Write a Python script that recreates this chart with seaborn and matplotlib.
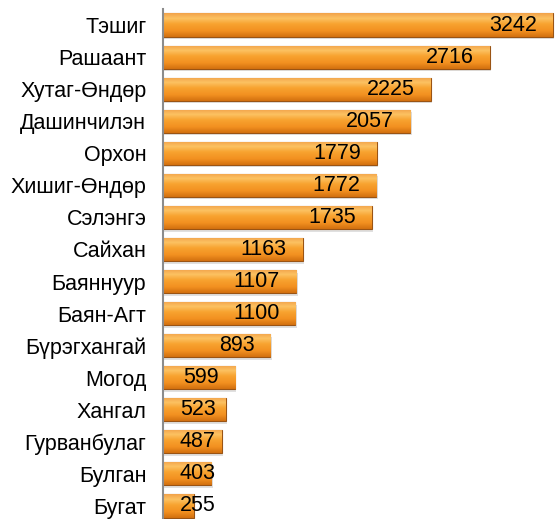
import numpy as np
import pandas as pd
import matplotlib
matplotlib.use("Agg")
import matplotlib.pyplot as plt
import seaborn as sns
from matplotlib.colors import LinearSegmentedColormap

# data
sums = ["Тэшиг", "Рашаант", "Хутаг-Өндөр", "Дашинчилэн", "Орхон", "Хишиг-Өндөр",
        "Сэлэнгэ", "Сайхан", "Баяннуур", "Баян-Агт", "Бүрэгхангай", "Могод",
        "Хангал", "Гурванбулаг", "Булган", "Бугат"]
values = [3242, 2716, 2225, 2057, 1779, 1772, 1735, 1163, 1107, 1100, 893, 599,
          523, 487, 403, 255]

df = pd.DataFrame({"sum": sums, "value": values})

sns.set_theme(style="white")
plt.rcParams["font.family"] = ["Liberation Sans", "DejaVu Sans"]

fig = plt.figure(figsize=(5.57, 5.19), dpi=100)
ax = fig.add_axes([163 / 557, -3 / 519, 392 / 557, 513 / 519])

sns.barplot(data=df, y="sum", x="value", orient="h", color="#F39A2B",
            width=0.72, edgecolor="#9A5414", linewidth=0.8, ax=ax, zorder=2)

# glossy orange gradient inside each bar (light top, dark bottom)
grad = LinearSegmentedColormap.from_list(
    "shine", [(0.0, "#F2A24A"), (0.22, "#FCC262"), (0.45, "#F8A330"),
              (0.75, "#F29020"), (1.0, "#D2700F")])
gimg = np.linspace(0, 1, 64).reshape(-1, 1)
for p in ax.patches:
    x0, y0 = p.get_x(), p.get_y()
    w, h = p.get_width(), p.get_height()
    # soft shadow
    ax.add_patch(plt.Rectangle((x0 + 12, y0 + 0.08), w, h, color="#000000",
                               alpha=0.12, zorder=1, lw=0))
    im = ax.imshow(gimg, cmap=grad, aspect="auto",
                   extent=(x0, x0 + w, y0 + h, y0), zorder=2.5,
                   interpolation="bilinear")
    im.set_clip_path(p)

for i, v in enumerate(values):
    if v < 560:
        ax.text(141, i, str(v), ha="left", va="center", fontsize=15.5,
                color="black", zorder=4)
    else:
        ax.text(v - 133, i, str(v), ha="right", va="center", fontsize=15.5,
                color="black", zorder=4)

ax.set_xlim(0, 3260)
ax.set_ylim(15.5, -0.5)
ax.set_xlabel("")
ax.set_ylabel("")
ax.set_xticks([])
ax.tick_params(axis="y", length=0, pad=12, labelsize=15.5, labelcolor="black")
for s in ["top", "right", "bottom"]:
    ax.spines[s].set_visible(False)
ax.spines["left"].set_color("#8c8c8c")
ax.spines["left"].set_linewidth(1.5)

fig.savefig("out.png", dpi=100)
